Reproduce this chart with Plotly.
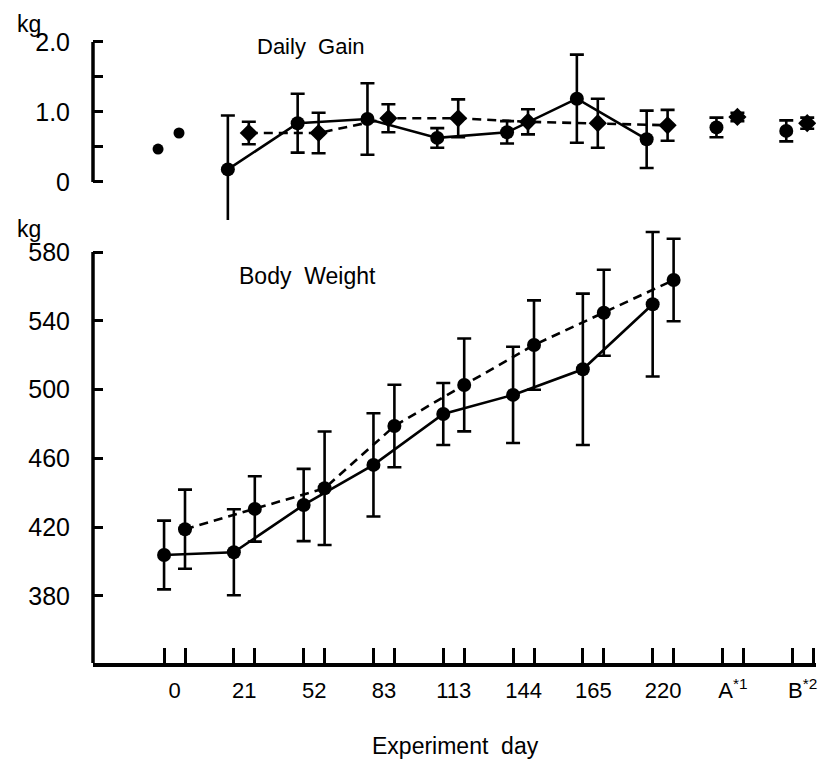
import plotly.graph_objects as go

# ---------------- data ----------------
days = ["0", "21", "52", "83", "113", "144", "165", "220", "A<sup>*1</sup>", "B<sup>*2</sup>"]

# Daily gain (kg/day)
gain_solid = [0.47, 0.18, 0.84, 0.90, 0.63, 0.71, 1.19, 0.61, 0.78, 0.73]
gain_solid_err = [0.0, 0.77, 0.42, 0.51, 0.14, 0.16, 0.63, 0.41, 0.14, 0.15]
gain_dash = [0.70, 0.70, 0.70, 0.91, 0.91, 0.86, 0.84, 0.81, 0.93, 0.84]
gain_dash_err = [0.0, 0.16, 0.29, 0.20, 0.27, 0.18, 0.35, 0.22, 0.06, 0.08]

# Body weight (kg)
bw_solid = [403.8, 405.4, 432.9, 456.2, 485.8, 496.9, 511.8, 549.6]
bw_solid_err = [20, 25, 21, 30, 18, 28, 44, 42]
bw_dash = [418.8, 430.6, 442.6, 478.8, 502.7, 525.9, 544.7, 563.7]
bw_dash_err = [23, 19, 33, 24, 27, 26, 25, 24]

gain_ticks = [0, 0.5, 1.0, 1.5, 2.0]
gain_ticktext = ["0", "", "1.0", "", "2.0"]
bw_ticks = [380, 420, 460, 500, 540, 580]

# ---------------- layout helpers ----------------
OFF = 0.15
idx = list(range(len(days)))
xs = [i - OFF for i in idx]
xd = [i + OFF for i in idx]

FONT = "Liberation Sans, Arial, sans-serif"
BLACK = "black"
LW = 2.6

def err(arr):
    return dict(type="data", array=arr, visible=True, color=BLACK,
                thickness=LW, width=7)

fig = go.Figure()

# ---- Body weight (bottom panel) ----
n = len(bw_solid)
fig.add_trace(go.Scatter(
    x=xs[:n], y=bw_solid, mode="lines+markers",
    line=dict(color=BLACK, width=LW),
    marker=dict(symbol="circle", size=14, color=BLACK),
    error_y=err(bw_solid_err), xaxis="x", yaxis="y", showlegend=False))
fig.add_trace(go.Scatter(
    x=xd[:n], y=bw_dash, mode="lines+markers",
    line=dict(color=BLACK, width=LW, dash="9px,6px"),
    marker=dict(symbol="circle", size=14, color=BLACK),
    error_y=err(bw_dash_err), xaxis="x", yaxis="y", showlegend=False))

# ---- Daily gain (top panel) ----
fig.add_trace(go.Scatter(
    x=xs[1:8], y=gain_solid[1:8], mode="lines",
    line=dict(color=BLACK, width=LW), xaxis="x2", yaxis="y2", showlegend=False))
fig.add_trace(go.Scatter(
    x=xd[1:8], y=gain_dash[1:8], mode="lines",
    line=dict(color=BLACK, width=LW, dash="9px,6px"), xaxis="x2", yaxis="y2", showlegend=False))
fig.add_trace(go.Scatter(
    x=xs[1:], y=gain_solid[1:], mode="markers",
    marker=dict(symbol="circle", size=14, color=BLACK),
    error_y=err(gain_solid_err[1:]), xaxis="x2", yaxis="y2", showlegend=False))
fig.add_trace(go.Scatter(
    x=xd[1:], y=gain_dash[1:], mode="markers",
    marker=dict(symbol="diamond", size=14, color=BLACK),
    error_y=err(gain_dash_err[1:]), xaxis="x2", yaxis="y2", showlegend=False))
fig.add_trace(go.Scatter(
    x=[xs[0], xd[0]], y=[gain_solid[0], gain_dash[0]], mode="markers",
    marker=dict(symbol="circle", size=11, color=BLACK),
    xaxis="x2", yaxis="y2", showlegend=False))

# dummy trace for label axis
fig.add_trace(go.Scatter(x=idx, y=[None] * len(idx), mode="markers",
                         marker=dict(opacity=0), xaxis="x3", yaxis="y",
                         showlegend=False, hoverinfo="skip"))

XR = [-1.168, 9.19]
SHIFT = 0.086
YFONT = dict(family=FONT, size=25, color=BLACK)

fig.update_layout(
    template="none",
    width=840, height=760,
    margin=dict(l=93, r=24, t=38, b=97),
    paper_bgcolor="white", plot_bgcolor="white",
    font=dict(family=FONT, size=22, color=BLACK),
    xaxis=dict(domain=[0, 1], anchor="y", range=XR, automargin=False,
               tickmode="array", tickvals=xs + xd, ticktext=[""] * (2 * len(idx)),
               ticks="inside", ticklen=15, tickwidth=3, tickcolor=BLACK,
               showline=True, linewidth=3.5, linecolor=BLACK,
               showgrid=False, zeroline=False),
    xaxis3=dict(overlaying="x", anchor="y", side="bottom", range=XR, automargin=False,
                tickmode="array", tickvals=idx, ticktext=days,
                ticks="outside", ticklen=8, tickcolor="rgba(0,0,0,0)",
                tickfont=dict(family=FONT, size=22, color=BLACK),
                showline=False, showgrid=False, zeroline=False),
    yaxis=dict(domain=[0, 0.6928], anchor="x", range=[341, 592.8], automargin=False,
               tickmode="array", tickvals=bw_ticks, ticktext=[str(v) for v in bw_ticks],
               ticks="inside", ticklen=10, tickwidth=3, tickcolor=BLACK,
               ticklabelstandoff=22, tickfont=YFONT,
               showline=False, showgrid=False, zeroline=False),
    xaxis2=dict(domain=[0, 1], anchor="y2", range=[XR[0] + SHIFT, XR[1] + SHIFT],
                visible=False, automargin=False),
    yaxis2=dict(domain=[0.7088, 1], anchor="x2", range=[-0.543, 2.057], automargin=False,
                tickmode="array", tickvals=gain_ticks, ticktext=gain_ticktext,
                ticks="inside", ticklen=10, tickwidth=3, tickcolor=BLACK,
                ticklabelstandoff=22, tickfont=YFONT,
                showline=False, showgrid=False, zeroline=False),
    shapes=[
        dict(type="line", xref="paper", yref="y", x0=0, x1=0, y0=341, y1=580,
             line=dict(color=BLACK, width=3.5)),
        dict(type="line", xref="paper", yref="y2", x0=0, x1=0, y0=0, y1=2.0,
             line=dict(color=BLACK, width=3.5)),
    ],
    annotations=[
        dict(text="Daily\u00a0\u00a0Gain", xref="x2", yref="y2", x=2.04, y=1.93,
             xanchor="center", yanchor="middle", showarrow=False, font=dict(size=22)),
        dict(text="Body\u00a0\u00a0Weight", xref="x", yref="y", x=1.90, y=566,
             xanchor="center", yanchor="middle", showarrow=False, font=dict(size=23)),
        dict(text="kg", xref="paper", yref="paper", x=-0.0885, y=1.0224,
             xanchor="center", yanchor="middle", showarrow=False, font=dict(size=23)),
        dict(text="kg", xref="paper", yref="paper", x=-0.0885, y=0.6945,
             xanchor="center", yanchor="middle", showarrow=False, font=dict(size=23)),
        dict(text="Experiment\u00a0\u00a0day", xref="paper", yref="paper", x=0.502, y=-0.133,
             xanchor="center", yanchor="middle", showarrow=False, font=dict(size=23)),
    ],
)

fig.write_html("out.html", config={"displayModeBar": False},
               post_script="document.body.style.margin='0';")
